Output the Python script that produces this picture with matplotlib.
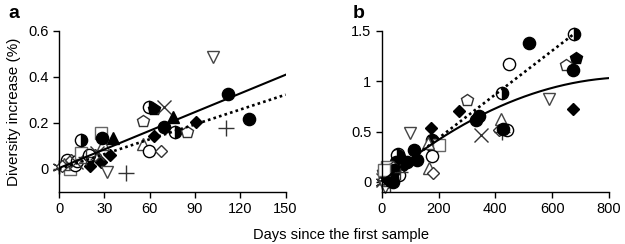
import matplotlib

matplotlib.use("Agg")

import matplotlib.pyplot as plt
import numpy as np

plt.rcParams["font.family"] = ["Liberation Sans", "DejaVu Sans"]

# panel a: days, diversity increase (%), marker kind
a_x = [0, 7, 10.5, 5, 8, 12, 14.5, 17, 11, 14.5, 20.5, 27.8, 33.7, 29, 28, 28.2, 36, 32, 44.5,
       22, 24, 20, 18, 25, 3, 2,
       55.7, 59.7, 62.8, 69.7, 75.5, 69.7, 62.8, 55.3, 59.5, 67.2, 77, 84.8, 91, 102, 112, 125.8, 110.8]
a_y = [0.01, 0.0, 0.017, 0.04, 0.04, 0.035, 0.07, 0.05, 0.03, 0.127, 0.014, 0.03, 0.062, 0.11, 0.155, 0.133, 0.135, -0.015, -0.019,
       0.05, 0.06, 0.06, 0.05, 0.07, 0.02, 0.015,
       0.21, 0.268, 0.262, 0.267, 0.225, 0.184, 0.143, 0.107, 0.08, 0.08, 0.16, 0.16, 0.206, 0.486, 0.325, 0.216, 0.177]
a_kind = ["*", "os", "oc", "oc", "od", "oc", "os", "ot", "x", "hc", "fd", "fd", "fd", "ot", "os", "fc", "ft", "ov", "+",
          "fd", "od", "oc", "+", "x", "ot", "od",
          "op", "hc", "fp", "x", "ft", "fc", "fd", "ot", "oc", "od", "hc", "op", "fd", "ov", "fc", "fc", "+"]

# panel b
b_x = [677, 518, 449, 683, 649, 672, 424, 299, 272, 590, 674, 342, 333, 419, 349, 440, 413, 425, 428,
       172, 100, 176, 180, 202, 178, 168, 182, 115, 123, 90, 70, 58.6, 164,
       60, 55, 75, 50, 20, 20, 30, 10, 25, 15, 10, 5, 3, 0, 10, 30, 45, 60, 40, 35, 25, 5,
       15, 35, 45, 20, 8, 65, 40]
b_y = [1.47, 1.377, 1.174, 1.227, 1.16, 1.107, 0.88, 0.817, 0.707, 0.827, 0.727, 0.65, 0.61, 0.627, 0.467, 0.517, 0.52, 0.5, 0.53,
       0.54, 0.484, 0.417, 0.35, 0.367, 0.26, 0.135, 0.084, 0.317, 0.217, 0.2, 0.17, 0.277, 0.384,
       0.25, 0.27, 0.19, 0.2, 0.15, 0.1, 0.12, 0.05, 0.05, 0.0, 0.1, 0.02, 0.02, 0.0, -0.05, -0.02, 0.02, 0.07, 0.15, 0.08, 0.02, 0.1,
       0.08, 0.04, 0.12, 0.02, 0.12, 0.1, 0.0]
b_kind = ["hc", "fc", "oc", "fp", "op", "fc", "hc", "op", "fd", "ov", "fd", "fc", "fc", "ot", "x", "oc", "od", "+", "fc",
          "fd", "ov", "fc", "fc", "os", "oc", "ot", "od", "fc", "fc", "fc", "fc", "oc", "ot",
          "fc", "hc", "fc", "fc", "os", "fc", "fc", "fc", "fc", "fc", "os", "od", "x", "*", "ov", "+", "+", "oc", "od", "fc", "ot", "op",
          "fc", "fc", "fc", "fd", "os", "+", "fc"]

# fitted curves (polynomial coefficients, highest power first)
a_solid = [0.0027, 0.004]
a_dotted = [0.00215, 0.0]
b_solid = [-1.339e-6, 0.002359, 0.0]
b_dotted = [0.00217, 0.0]

STYLES = {
    "fc": dict(marker="o", mfc="black", mec="black"),
    "oc": dict(marker="o", mfc="white", mec="black"),
    "hc": dict(marker="o", mfc="black", mec="black", fillstyle="right", markerfacecoloralt="white"),
    "fd": dict(marker="D", mfc="black", mec="black", ms=6.5),
    "od": dict(marker="D", mfc="white", mec="#333333", ms=6.5),
    "ft": dict(marker="^", mfc="black", mec="black"),
    "ot": dict(marker="^", mfc="white", mec="#444444"),
    "ov": dict(marker="v", mfc="white", mec="#444444"),
    "os": dict(marker="s", mfc="white", mec="#666666"),
    "op": dict(marker="p", mfc="white", mec="#333333"),
    "fp": dict(marker="p", mfc="black", mec="black"),
    "x": dict(marker="x", color="#333333", ms=10),
    "+": dict(marker="+", color="#333333", ms=11),
    "*": dict(marker=(6, 2, 0), color="#333333", ms=10),
}


def draw_points(ax, xs, ys, kinds):
    for x, y, k in zip(xs, ys, kinds):
        st = dict(ms=8.8, mew=1.0, linestyle="none", clip_on=False)
        st.update(STYLES[k])
        ax.plot([x], [y], **st)


def style_axes(ax):
    for side in ("top", "right"):
        ax.spines[side].set_visible(False)
    ax.spines["left"].set_linewidth(1.0)
    ax.spines["bottom"].set_linewidth(1.0)
    ax.tick_params(direction="out", length=4, width=1.0, labelsize=10.5)


fig = plt.figure(figsize=(6.25, 2.44), dpi=100)
ax_a = fig.add_axes([0.0944, 0.213, 0.3626, 0.661])
ax_b = fig.add_axes([0.6107, 0.213, 0.3637, 0.661])

draw_points(ax_a, a_x, a_y, a_kind)
xa = np.linspace(0, 150, 100)
ax_a.plot(xa, np.polyval(a_solid, xa), color="black", lw=1.5)
ax_a.plot(xa, np.polyval(a_dotted, xa), color="black", lw=1.9, linestyle=(0, (1, 1.2)))
ax_a.set_xlim(0, 150)
ax_a.set_ylim(-0.1, 0.6)
ax_a.set_xticks([0, 30, 60, 90, 120, 150])
ax_a.set_yticks([0, 0.2, 0.4, 0.6])
ax_a.set_yticklabels(["0", "0.2", "0.4", "0.6"])
ax_a.set_ylabel("Diversity increase (%)", fontsize=11, labelpad=5)
style_axes(ax_a)

draw_points(ax_b, b_x, b_y, b_kind)
xb = np.linspace(0, 800, 200)
ax_b.plot(xb, np.polyval(b_solid, xb), color="black", lw=1.5)
xd = np.linspace(0, 677, 100)
ax_b.plot(xd, np.polyval(b_dotted, xd), color="black", lw=1.9, linestyle=(0, (1, 1.2)))
ax_b.set_xlim(0, 800)
ax_b.set_ylim(-0.1, 1.5)
ax_b.set_xticks([0, 200, 400, 600, 800])
ax_b.set_yticks([0, 0.5, 1, 1.5])
ax_b.set_yticklabels(["0", "0.5", "1", "1.5"])
style_axes(ax_b)

fig.text(0.013, 0.945, "a", fontsize=14, fontweight="bold", va="center", ha="left")
fig.text(0.574, 0.945, "b", fontsize=14, fontweight="bold", va="center", ha="center")
fig.text(0.546, 0.035, "Days since the first sample", fontsize=10.5, ha="center", va="center")

fig.savefig("out.png", dpi=100)
